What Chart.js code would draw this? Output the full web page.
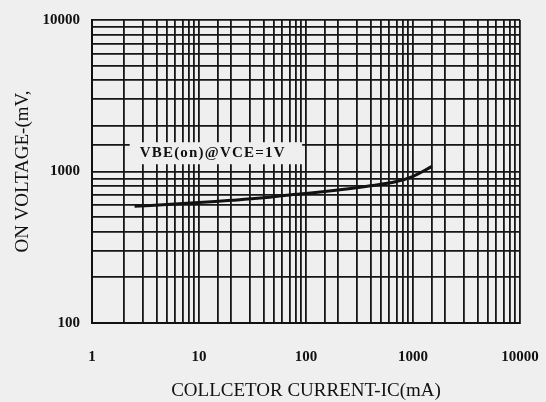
<!DOCTYPE html>
<html>
<head>
<meta charset="utf-8">
<script src="https://cdn.jsdelivr.net/npm/chart.js@4"></script>
<style>
html,body{margin:0;padding:0;background:#efeff0;}
#wrap{width:546px;height:402px;position:relative;}
</style>
</head>
<body>
<div id="wrap"><canvas id="chart" width="546" height="402"></canvas></div>
<script>
// collector current (mA) and VBE(on) (mV)
const currentMA = [2.5, 5, 10, 20, 40, 70, 100, 200, 400, 700, 1000, 1500];
const vbeOn = [590, 605, 625, 645, 670, 700, 715, 755, 805, 860, 930, 1080];

const xTickLabels = [1, 10, 100, 1000, 10000];
const yTickLabels = [100, 1000, 10000];

const curveLabel = "VBE(on)@VCE=1V";
const xTitle = "COLLCETOR CURRENT-IC(mA)";
const yTitle = "ON VOLTAGE-(mV,";

const bg = "#efeff0";
const serif = "'Liberation Serif', 'DejaVu Serif', serif";

// text box over the grid, like the scan
const labelPlugin = {
    id: "curveLabel",
    beforeDatasetsDraw(chart){
        const ctx = chart.ctx;
        const x = chart.scales.x.getPixelForValue(2.25);
        const x2 = chart.scales.x.getPixelForValue(92);
        const y = chart.scales.y.getPixelForValue(1320);
        ctx.save();
        ctx.fillStyle = bg;
        ctx.fillRect(x, y - 11, x2 - x, 22);
        ctx.fillStyle = "#111";
        ctx.font = "bold 15px " + serif;
        ctx.letterSpacing = "1.2px";
        ctx.textBaseline = "middle";
        ctx.fillText(curveLabel, x + 10, y);
        ctx.restore();
    }
};

new Chart(document.getElementById("chart"), {
    type: "line",
    data: {
        datasets: [{
            data: currentMA.map((c, i) => ({x: c, y: vbeOn[i]})),
            borderColor: "#111",
            borderWidth: 3,
            pointRadius: 0,
            tension: 0.4,
            fill: false
        }]
    },
    options: {
        responsive: false,
        animation: false,
        layout: {padding: {top: 20, right: 26, left: 0, bottom: 0}},
        plugins: {legend: {display: false}, tooltip: {enabled: false}},
        scales: {
            x: {
                type: "logarithmic",
                min: 1,
                max: 10000,
                afterFit(s){ s.height = 79; s.paddingLeft = 0; s.paddingRight = 0; },
                border: {color: "#111", width: 2},
                grid: {color: "#161616", lineWidth: 1.8, drawTicks: false},
                ticks: {
                    autoSkip: false,
                    maxRotation: 0,
                    padding: 25,
                    color: "#111",
                    font: {family: serif, size: 15, weight: "bold"},
                    callback: v => xTickLabels.includes(v) ? String(v) : ""
                },
                title: {
                    display: true,
                    text: xTitle,
                    color: "#111",
                    font: {family: serif, size: 19},
                    padding: {top: 4, bottom: 0}
                }
            },
            y: {
                type: "logarithmic",
                min: 100,
                max: 10000,
                afterFit(s){ s.width = 92; s.paddingTop = 0; s.paddingBottom = 0; },
                border: {color: "#111", width: 2},
                grid: {color: "#161616", lineWidth: 1.8, drawTicks: false},
                ticks: {
                    autoSkip: false,
                    padding: 12,
                    color: "#111",
                    font: {family: serif, size: 15, weight: "bold"},
                    callback: v => yTickLabels.includes(v) ? String(v) : ""
                },
                title: {
                    display: true,
                    text: yTitle,
                    color: "#111",
                    font: {family: serif, size: 19},
                    padding: {top: 12, bottom: 0}
                }
            }
        }
    },
    plugins: [labelPlugin]
});
</script>
</body>
</html>
